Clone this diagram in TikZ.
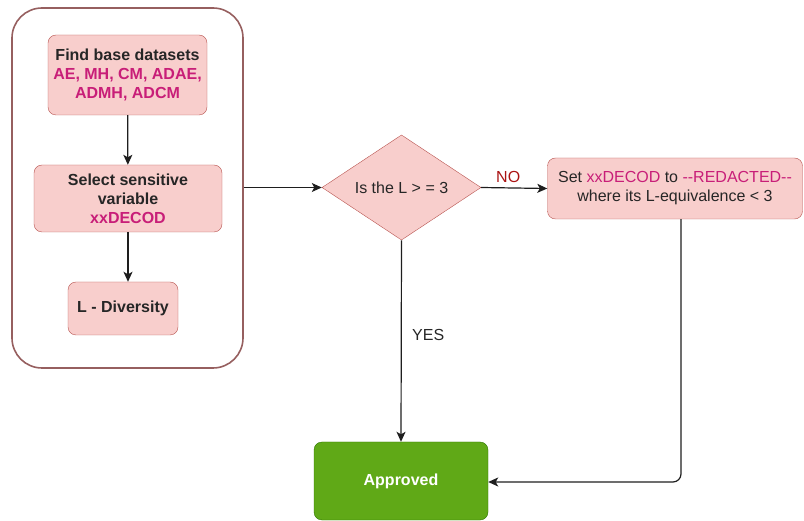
\documentclass[tikz,border=0pt]{standalone}
\usepackage{fontspec}
\setmainfont{Liberation Sans}
\usetikzlibrary{shapes.geometric,arrows.meta}
\definecolor{pinkfill}{HTML}{F8CECC}
\definecolor{pinkline}{HTML}{B85450}
\definecolor{contline}{RGB}{150,95,95}
\definecolor{mag}{RGB}{200,30,120}
\definecolor{nored}{RGB}{170,20,20}
\definecolor{greenfill}{HTML}{60A917}
\definecolor{greenline}{HTML}{2D7600}
\definecolor{lin}{RGB}{30,30,30}
\tikzset{
  pinkbox/.style={draw=pinkline, fill=pinkfill, rounded corners=8pt, align=center, inner sep=0pt,
    font=\fontsize{16}{19}\selectfont\bfseries, text=black!85},
  arr/.style={draw=lin, line width=1.2pt, -{Stealth[length=10pt,width=9pt,inset=2.5pt]}},
  lbl/.style={font=\fontsize{16}{19}\selectfont, inner sep=0pt}
}
\begin{document}
\begin{tikzpicture}[x=1pt,y=-1pt]
\useasboundingbox (0,0) rectangle (804,521);
\node[draw=contline, line width=1.6pt, rounded corners=30pt, minimum width=231pt, minimum height=360pt, inner sep=0pt] (cont) at (127.5,188) {};
\node[pinkbox, minimum width=159pt, minimum height=80pt] (find) at (127.5,75)
  {Find base datasets\\\textcolor{mag}{AE, MH, CM, ADAE,}\\\textcolor{mag}{ADMH, ADCM}};
\node[pinkbox, minimum width=188pt, minimum height=67pt] (select) at (128,198.5)
  {Select sensitive\\variable\\\textcolor{mag}{xxDECOD}};
\node[pinkbox, minimum width=110pt, minimum height=53pt] (ldiv) at (123,308.5) {L - Diversity};
\node[diamond, draw=pinkline, fill=pinkfill, minimum width=159pt, minimum height=105pt, inner sep=0pt,
  font=\fontsize{16}{19}\selectfont, text=black!85] (dec) at (401.5,187.5) {Is the L > = 3};
\node[draw=pinkline, fill=pinkfill, rounded corners=8pt, align=center, inner sep=0pt,
  minimum width=255pt, minimum height=61pt, font=\fontsize{16}{19}\selectfont, text=black!85] (set) at (675,188.5)
  {Set \textcolor{mag}{xxDECOD} to \textcolor{mag}{-\kern0pt-REDACTED-\kern0pt-}\\where its L-equivalence < 3};
\node[draw=greenline, fill=greenfill, rounded corners=8pt, inner sep=0pt, minimum width=174pt, minimum height=78pt,
  font=\fontsize{16}{19}\selectfont\bfseries, text=white] (appr) at (401,481) {Approved};
\draw[arr] (find) -- (select);
\draw[arr] (select.south) -- (select.south |- ldiv.north);
\draw[arr] (cont.east |- dec.west) -- (dec.west);
\draw[arr] (dec.east) -- (set.west);
\node[lbl, text=nored, anchor=west] (no) at (496,177) {NO};
\draw[arr] (dec.south) -- (appr.north);
\node[lbl, text=black!85, anchor=west] (yes) at (412,335) {YES};
\coordinate (turn) at (681,482);
\draw[arr, rounded corners=8pt] (set.south -| turn) -- (turn) -- (appr.east |- turn);
\end{tikzpicture}
\end{document}
